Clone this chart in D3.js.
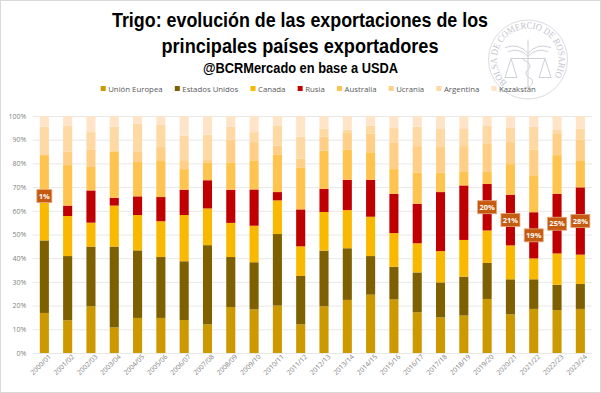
<!DOCTYPE html>
<html>
<head>
<meta charset="utf-8">
<script src="https://cdn.jsdelivr.net/npm/d3@7"></script>
<style>
  html, body { margin: 0; padding: 0; background: #fff; }
  svg { display: block; }
</style>
</head>
<body>
<div id="chart"></div>
<script>
// campañas
var campaigns = ["2000/01","2001/02","2002/03","2003/04","2004/05","2005/06","2006/07","2007/08","2008/09","2009/10","2010/11","2011/12",
    "2012/13","2013/14","2014/15","2015/16","2016/17","2017/18","2018/19","2019/20","2020/21","2021/22","2022/23","2023/24"];

var countries = ["Unión Europea","Estados Unidos","Canada","Rusia","Australia","Ucrania","Argentina","Kazakstán"];
var colors = ["#CC9900","#7F6000","#F9B900","#C00000","#FFC34F","#FFCF88","#FFD9A3","#FFE4C7"];

var unionEuropea = [16.9,13.8,19.7,10.8,14.8,14.8,13.9,12.1,19.4,18.4,20,12.1,19.7,22.4,24.6,22.6,17.2,15,15.8,22.8,16.3,18.6,18.1,18.6];
var estadosUnidos = [30.6,27.1,25.2,34.1,28.5,25.7,24.8,33.4,21.1,19.9,30.2,20.4,23.5,21.8,16.3,13.8,16.8,14.8,16.4,15.2,14.8,12.5,10.7,10.5];
var canada = [18.2,16.9,10.1,17.3,14.9,15.1,19.5,15.5,14.4,15.4,14.2,12.5,16.3,16.1,16.6,14.2,12.3,13.2,15.5,13.7,14.3,8.8,13.2,12.4];
var rusia = [1,4.4,13.6,3.3,7.9,10.2,10.7,11.9,14,15.3,3.5,15.6,9.7,12.8,15.6,16.5,16.6,24.9,23,19.6,21.4,19.5,25.1,28.4];
var australia = [16.8,17.1,9.9,19.6,14.5,15.2,8.7,7.3,11.3,12.3,15.9,17.7,16.2,12.8,11.6,10.5,13.3,8.3,5.7,5.1,12.9,15.6,16.4,11.1];
var ucrania = [0,5.7,7.2,0,4.5,5.9,3.4,1.2,9.8,7.7,3.7,3.8,6,6.9,7.8,11,11.1,10.7,10.9,12.1,9.3,10.9,8.9,9];
var argentina = [12,10.8,7.5,10.4,11.7,9.3,10.7,10.7,5.4,4.2,8.3,9.2,3.3,1.4,3.5,6.3,8.2,7.6,7.2,7.3,6.2,9.5,1.7,4.7];
var kazakstan = [4.5,4.2,6.8,4.5,3.2,3.8,8.3,7.9,4.6,6.8,4.2,8.7,5.3,5.8,4,5.1,4.5,5.5,5.5,4.2,4.8,4.6,5.9,5.3];

// etiquetas de Rusia
var labelCampaigns = ["2000/01","2019/20","2020/21","2021/22","2022/23","2023/24"];
var labelTexts = ["1%","20%","21%","19%","25%","28%"];

var yTicks = [0,10,20,30,40,50,60,70,80,90,100];

var width = 601, height = 393;
var margin = {top: 116, right: 9, bottom: 40, left: 32.7};

var svg = d3.select("#chart").append("svg")
    .attr("width", width)
    .attr("height", height);

// marco
svg.append("rect")
    .attr("x", 0.5).attr("y", 0.5)
    .attr("width", width - 1).attr("height", height - 1)
    .attr("fill", "#fff").attr("stroke", "#D9D9D9");

var table = campaigns.map(function(c, i){
    return {campaign: c, 0: unionEuropea[i], 1: estadosUnidos[i], 2: canada[i], 3: rusia[i],
        4: australia[i], 5: ucrania[i], 6: argentina[i], 7: kazakstan[i]};
});

var stackedData = d3.stack().keys(d3.range(countries.length))(table);

var x = d3.scaleBand()
    .domain(campaigns)
    .range([margin.left, width - margin.right])
    .paddingInner(0.61)
    .paddingOuter(0.305);

var y = d3.scaleLinear()
    .domain([0, 100])
    .range([height - margin.bottom, margin.top]);

// sello de fondo
var seal = svg.append("g").attr("transform", "translate(528,59.5)");
seal.append("circle").attr("r", 39.5).attr("fill", "none").attr("stroke", "#DADCE2").attr("stroke-width", 1);
seal.append("path").attr("id", "sealPath")
    .attr("d", "M -21,23 A 31,31 0 1 1 26.5,16")
    .attr("fill", "none");
seal.append("text")
    .attr("font-family", "'Liberation Serif', serif")
    .attr("font-size", 9.5)
    .attr("fill", "#BFC2CB")
    .append("textPath")
    .attr("href", "#sealPath")
    .attr("textLength", 140)
    .attr("lengthAdjust", "spacingAndGlyphs")
    .text("BOLSA DE COMERCIO DE ROSARIO");
var sealLines = ["M0,-20 L0,28","M-23,-12 Q-9,-17 0,-6 Q9,-17 23,-12","M-20,-8 Q-8,-12 0,-3 Q8,-12 20,-8",
    "M-17,-1 L17,-1","M-17,-1 L-23,18 L-11,18 Z","M17,-1 L23,18 L11,18 Z",
    "M-5,0 Q6,5 0,10 Q-6,15 4,20 Q7,25 -3,29"];
seal.selectAll("path.line").data(sealLines).enter().append("path")
    .attr("class", "line")
    .attr("d", function(d){ return d; })
    .attr("fill", "none")
    .attr("stroke", "#CDD0D7")
    .attr("stroke-width", 1);

// grid
svg.append("g").selectAll("line")
    .data(yTicks)
    .enter().append("line")
    .attr("x1", margin.left)
    .attr("x2", width - margin.right)
    .attr("y1", function(d){ return y(d) + 0.5; })
    .attr("y2", function(d){ return y(d) + 0.5; })
    .attr("stroke", "#E9E8E8");

// barras
svg.append("g")
    .selectAll("g")
    .data(stackedData)
    .enter().append("g")
    .attr("fill", function(d){ return colors[d.key]; })
    .selectAll("rect")
    .data(function(d){ return d; })
    .enter().append("rect")
    .attr("x", function(d){ return x(d.data.campaign); })
    .attr("y", function(d){ return y(d[1]); })
    .attr("width", x.bandwidth())
    .attr("height", function(d){ return y(d[0]) - y(d[1]); });

// ejes
var yAxis = svg.append("g")
    .attr("transform", "translate(" + margin.left + ",0)")
    .call(d3.axisLeft(y).tickValues(yTicks).tickSize(0).tickPadding(6.5).tickFormat(function(d){ return d + "%"; }));
yAxis.select(".domain").remove();
yAxis.selectAll("text")
    .attr("font-family", "'Open Sans', sans-serif")
    .attr("font-size", 7)
    .attr("fill", "#7F7F7F");

var xAxis = svg.append("g")
    .attr("transform", "translate(0," + y(0) + ")")
    .call(d3.axisBottom(x).tickSize(0).tickPadding(5));
xAxis.select(".domain").remove();
xAxis.selectAll("text")
    .attr("font-family", "'Open Sans', sans-serif")
    .attr("font-size", 6.8)
    .attr("fill", "#7F7F7F")
    .attr("text-anchor", "end")
    .attr("dx", "2")
    .attr("dy", "3")
    .attr("transform", "rotate(-45)");

// etiquetas Rusia
var rusiaStack = stackedData[3];
var labels = svg.append("g").selectAll("g")
    .data(labelCampaigns)
    .enter().append("g")
    .attr("transform", function(d){
        var s = rusiaStack[campaigns.indexOf(d)];
        return "translate(" + (x(d) + x.bandwidth() / 2) + "," + y((s[0] + s[1]) / 2) + ")";
    });
labels.append("rect")
    .attr("x", function(d, i){ return labelTexts[i].length == 2 ? -7.5 : -9.5; })
    .attr("y", -6.5)
    .attr("width", function(d, i){ return labelTexts[i].length == 2 ? 15 : 19; })
    .attr("height", 13)
    .attr("fill", "#C55A11")
    .attr("stroke", "#E7A77A")
    .attr("stroke-width", 0.8);
labels.append("text")
    .attr("text-anchor", "middle")
    .attr("dy", "0.35em")
    .attr("font-family", "'Open Sans', sans-serif")
    .attr("font-weight", "bold")
    .attr("font-size", 7.5)
    .attr("fill", "#fff")
    .text(function(d, i){ return labelTexts[i]; });

// leyenda
var legendX = 100.7;
countries.forEach(function(name, i){
    svg.append("rect")
        .attr("x", legendX).attr("y", 86)
        .attr("width", 5).attr("height", 5)
        .attr("fill", colors[i]);
    var t = svg.append("text")
        .attr("x", legendX + 7.5).attr("y", 92)
        .attr("font-family", "'Open Sans', sans-serif")
        .attr("font-size", 7.8)
        .attr("fill", "#595959")
        .text(name);
    legendX += 7.5 + t.node().getComputedTextLength() + 12.2;
});

// titulos (sin fuente condensada instalada, se comprime al ancho del original)
var titleLines = ["Trigo: evolución de las exportaciones de los", "principales países exportadores"];
var titleLengths = [376, 277];
svg.selectAll("text.title")
    .data(titleLines)
    .enter().append("text")
    .attr("class", "title")
    .attr("x", 300)
    .attr("y", function(d, i){ return 26.7 + i * 26.6; })
    .attr("text-anchor", "middle")
    .attr("font-family", "'Liberation Sans', sans-serif")
    .attr("font-weight", "bold")
    .attr("font-size", 21)
    .attr("textLength", function(d, i){ return titleLengths[i]; })
    .attr("lengthAdjust", "spacingAndGlyphs")
    .attr("fill", "#000")
    .text(function(d){ return d; });

svg.append("text")
    .attr("x", 300.5)
    .attr("y", 73.3)
    .attr("text-anchor", "middle")
    .attr("font-family", "'Liberation Sans', sans-serif")
    .attr("font-weight", "bold")
    .attr("font-size", 14)
    .attr("textLength", 195)
    .attr("lengthAdjust", "spacingAndGlyphs")
    .attr("fill", "#000")
    .text("@BCRMercado en base a USDA");
</script>
</body>
</html>
